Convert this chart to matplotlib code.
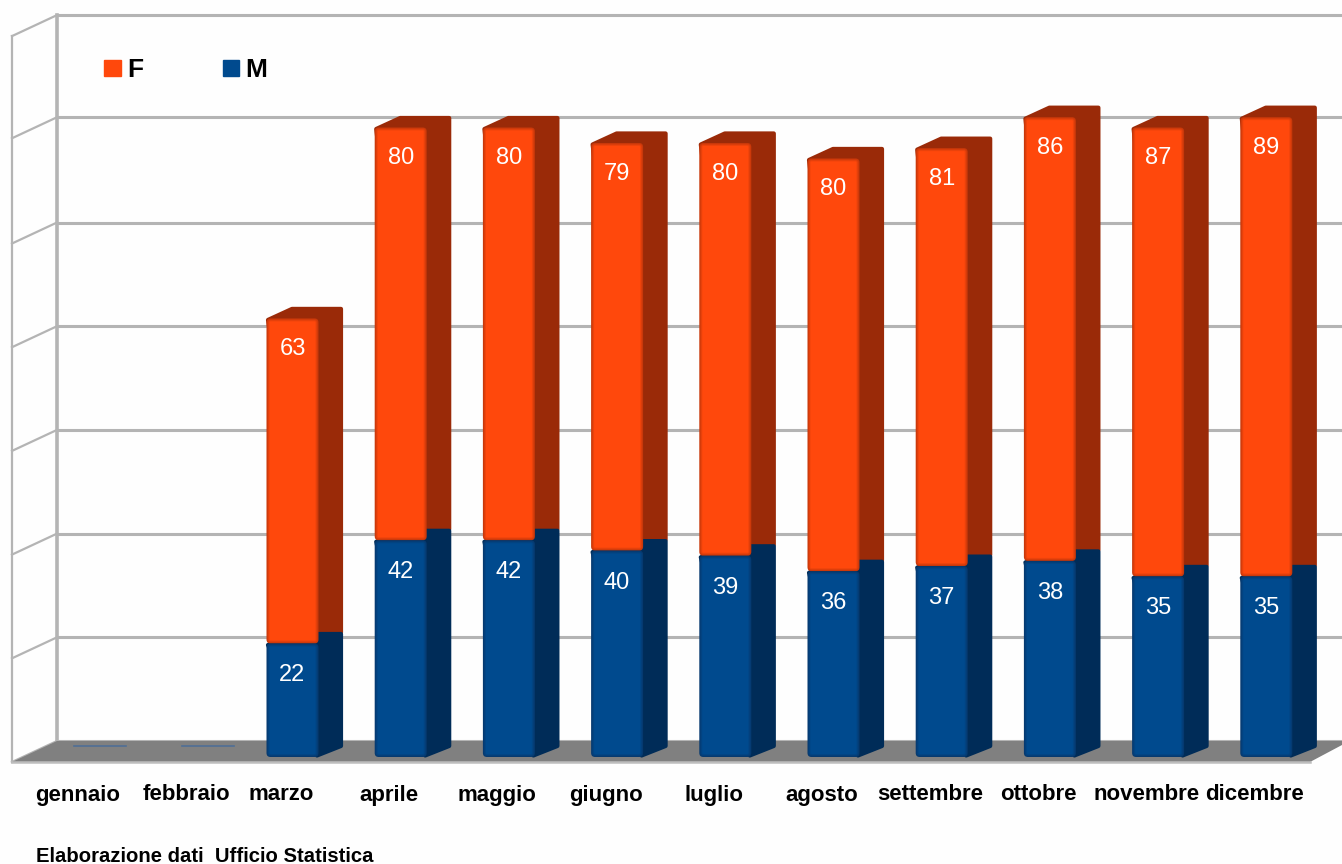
import matplotlib
matplotlib.use("Agg")
import matplotlib.pyplot as plt
from matplotlib.colors import to_rgb
from matplotlib.patches import FancyBboxPatch, Patch, Polygon

# Dati
mesi = ["gennaio", "febbraio", "marzo", "aprile", "maggio", "giugno", "luglio",
        "agosto", "settembre", "ottobre", "novembre", "dicembre"]
femmine = [0, 0, 63, 80, 80, 79, 80, 80, 81, 86, 87, 89]
maschi = [0, 0, 22, 42, 42, 40, 39, 36, 37, 38, 35, 35]
griglia = [0, 20, 40, 60, 80, 100, 120.3, 140]

# Colori
ARANCIO, ARANCIO_BORDO, ARANCIO_LATO = "#ff480c", "#c8380a", "#9a2a08"
BLU, BLU_BORDO, BLU_LATO = "#004a8e", "#063a70", "#002c58"
GRIGIO = "#b4b4b4"

# Scala: pixel per categoria e per unita', posizione di marzo e dello zero
PX_X, PX_Y = 108.2, 5.16
X_MARZO, Y_ZERO = 292.5, 757
W, H = 1342, 864
LARGHEZZA = 52 / PX_X
DX, DY = 24 / PX_X, 11 / PX_Y


def data_x(px):
    return 2 + (px - X_MARZO) / PX_X


def data_y(py):
    return (Y_ZERO - py) / PX_Y


def mix(c1, c2, t):
    return tuple(a + (b - a) * t for a, b in zip(to_rgb(c1), to_rgb(c2)))


fig = plt.figure(figsize=(W / 100, H / 100), dpi=100, facecolor="#fefefe")
ax = fig.add_axes([0, 0, 1, 1])
ax.set_xlim(data_x(0), data_x(W))
ax.set_ylim(data_y(H), data_y(0))
ax.axis("off")

plt.rcParams["font.family"] = ["Liberation Sans", "DejaVu Sans"]

# Pareti e griglia
x_muro, x_fronte = data_x(57), data_x(12)
y_muro = data_y(741)
passo = 103.7 / PX_Y / 20
salto = 21 / PX_Y
ax.add_patch(Polygon([(x_fronte, y_muro - salto), (x_muro, y_muro), (data_x(W), y_muro),
                      (data_x(W), data_y(745)), (data_x(1310), y_muro - salto)],
                     facecolor="#808080", edgecolor="none", zorder=2))
ax.plot([x_fronte, data_x(1310)], [y_muro - salto] * 2, color="#bdbdbd", lw=1.8, zorder=2)
for g in griglia:
    y = y_muro + g * passo
    ax.plot([x_muro, data_x(W)], [y, y], color=GRIGIO, lw=2.2, zorder=1)
    ax.plot([x_fronte, x_muro], [y - salto, y], color=GRIGIO, lw=1.6, zorder=1)
y_alto = y_muro + griglia[-1] * passo
ax.plot([x_muro, x_muro], [y_muro, y_alto], color=GRIGIO, lw=2.6, zorder=1)
ax.plot([x_fronte, x_fronte], [y_muro - salto, y_alto - salto], color=GRIGIO, lw=1.6, zorder=1)


# Barra con faccia superiore e laterale, spigoli arrotondati e bordo sfumato
def colonna(i, base, valore, colore, bordo, lato):
    x0, x1 = i - LARGHEZZA / 2, i + LARGHEZZA / 2
    top = base + valore
    rx, ry = 1.5 / PX_X, 1.5 / PX_Y
    forma = [(x1 - rx, base + ry), (x1 + DX - rx, base + DY), (x1 + DX - rx, top + DY - ry),
             (x0 + DX + rx, top + DY - ry), (x0 + rx, top - ry)]
    ax.add_patch(Polygon(forma, facecolor=lato, edgecolor=lato, lw=3.0,
                         joinstyle="round", zorder=3))
    for k in range(4):
        d = k * 1.0
        ax.add_patch(FancyBboxPatch(
            (x0 + d / PX_X, base + d / PX_Y), LARGHEZZA - 2 * d / PX_X, valore - 2 * d / PX_Y,
            boxstyle="round,pad=0,rounding_size=%.4f" % (max(4 - d, 1) / PX_X),
            mutation_aspect=PX_X / PX_Y, facecolor=mix(bordo, colore, k / 3),
            edgecolor="none", zorder=4 + k * 0.1))


for i, mese in enumerate(mesi):
    m, f = maschi[i], femmine[i]
    if m == 0 and f == 0:
        # mese senza dati: resta solo il bordo della barra sul pavimento
        ax.plot([i - LARGHEZZA / 2 + DX, i + LARGHEZZA / 2 + DX], [DY, DY],
                color="#4f6f96", lw=1.2, zorder=3)
    else:
        colonna(i, m, f, ARANCIO, ARANCIO_BORDO, ARANCIO_LATO)
        colonna(i, 0, m, BLU, BLU_BORDO, BLU_LATO)
        ax.text(i, m - 6.2, str(m), color="white", fontsize=17, ha="center", va="center", zorder=5)
        ax.text(i, m + f - 6.0, str(f), color="white", fontsize=17, ha="center", va="center", zorder=5)
    # le etichette non sono centrate sulle barre
    spost = 2 if i < 2 else -11.5
    ax.text(i + spost / PX_X, data_y(795), mese, color="#000000", fontsize=16,
            fontweight="bold", ha="center", va="center", zorder=5)

ax.text(data_x(36), data_y(857), "Elaborazione dati  Ufficio Statistica", color="#000000",
        fontsize=14.6, fontweight="bold", ha="left", va="center", zorder=5)

# Legenda
ax.legend(handles=[Patch(color=ARANCIO, label="F"), Patch(color=BLU, label="M")], ncol=2,
          frameon=False, loc="upper left", bbox_to_anchor=(104 / W, 1 - 58 / H),
          prop={"size": 19, "weight": "bold"}, borderpad=0, borderaxespad=0,
          handlelength=0.63, handleheight=0.55, handletextpad=0.25, columnspacing=3.0)

fig.savefig("out.png", dpi=100, facecolor=fig.get_facecolor())
